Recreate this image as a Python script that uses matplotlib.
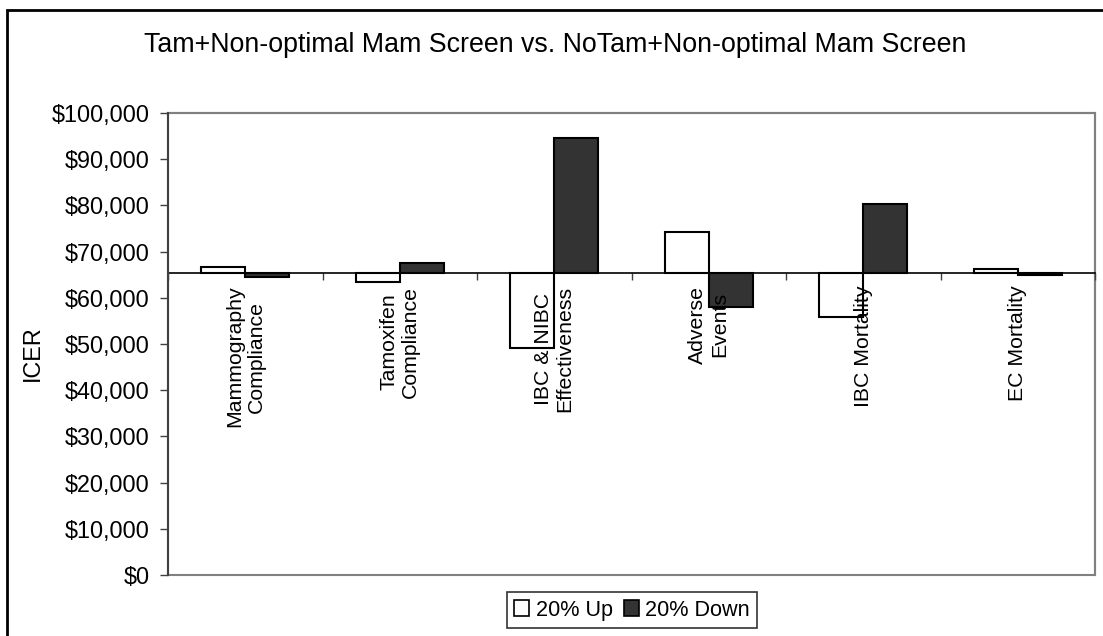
import numpy as np
import matplotlib
matplotlib.use('Agg')
import matplotlib.pyplot as plt
from matplotlib.patches import Rectangle, Patch
from matplotlib.ticker import FuncFormatter

plt.rcParams['font.family'] = ['Liberation Sans', 'DejaVu Sans']

# data
categories = ['Mammography\nCompliance', 'Tamoxifen\nCompliance', 'IBC & NIBC\nEffectiveness',
              'Adverse\nEvents', 'IBC Mortality', 'EC Mortality']
up_20 = [66700, 63500, 49100, 74300, 55850, 66250]
down_20 = [64400, 67600, 94500, 57950, 80300, 64950]
baseline = 65300
title = 'Tam+Non-optimal Mam Screen vs. NoTam+Non-optimal Mam Screen'

W, H = 1103, 636
fig = plt.figure(figsize=(W / 100, H / 100), dpi=100)
ax = fig.add_axes([168 / W, 1 - 575 / H, 927 / W, 462 / H])
ax.set_axisbelow(False)

x = np.arange(len(categories))
w = 0.2857
up_h = [v - baseline for v in up_20]
down_h = [v - baseline for v in down_20]
ax.bar(x - w / 2, up_h, w, bottom=baseline, facecolor='white', edgecolor='black', lw=1.5, zorder=2)
ax.bar(x + w / 2, down_h, w, bottom=baseline, facecolor='#333333', edgecolor='black', lw=1.5, zorder=2)

ax.set_xlim(-0.5, len(categories) - 0.5)
ax.set_ylim(0, 100000)

# plot area border (grey) and dark value axis
for s in ['top', 'right']:
    ax.spines[s].set_color('#808080')
    ax.spines[s].set_linewidth(1.5)
ax.add_patch(Rectangle((0, 0), 1, 1, transform=ax.transAxes, fill=False,
                       edgecolor='#808080', lw=1.5, zorder=1, clip_on=False))
ax.spines['left'].set_color('#404040')
ax.spines['left'].set_linewidth(1.5)
ax.spines['left'].set_zorder(5)

# category axis crosses at the baseline value
ax.spines['bottom'].set_position(('data', baseline))
ax.spines['bottom'].set_color('black')
ax.spines['bottom'].set_linewidth(1.2)
ax.spines['bottom'].set_zorder(4)

ax.set_xticks(np.arange(-0.5, len(categories), 1.0))
ax.set_xticklabels([])
ax.tick_params(axis='x', which='major', direction='out', length=5, width=1, color='#404040')
ax.set_xticks(x, minor=True)
ax.set_xticklabels(categories, minor=True, rotation=90, ha='center', va='top',
                   multialignment='center', fontsize=15.3)
ax.tick_params(axis='x', which='minor', length=0, pad=9)

ax.set_yticks(np.arange(0, 100001, 10000))
ax.yaxis.set_major_formatter(FuncFormatter(lambda v, p: '${:,.0f}'.format(v)))
ax.tick_params(axis='y', direction='out', length=6, width=1, color='#404040', pad=7, labelsize=16.8)

ax.set_ylabel('ICER', fontsize=16.8)
ax.yaxis.set_label_coords(-0.134, 0.48)

fig.text(0.503, 1 - 45 / H, title, ha='center', va='center', fontsize=19.3)

# outer chart border
fig.add_artist(Rectangle((7 / W, -0.1), 1.2, 1.1 - 10 / H, transform=fig.transFigure,
                         fill=False, edgecolor='black', lw=2, clip_on=False))

handles = [Patch(facecolor='white', edgecolor='black', lw=1.2, label='20% Up'),
           Patch(facecolor='#333333', edgecolor='black', lw=1.2, label='20% Down')]
leg = fig.legend(handles=handles, loc='upper center', bbox_to_anchor=(632 / W, 1 - 592 / H),
                 ncol=2, fontsize=15.6, frameon=True, fancybox=False, edgecolor='black',
                 handlelength=0.7, handleheight=0.7, handletextpad=0.3, columnspacing=0.5,
                 borderpad=0.35, borderaxespad=0)
leg.get_frame().set_linewidth(1.2)

fig.savefig('out.png', dpi=100)
